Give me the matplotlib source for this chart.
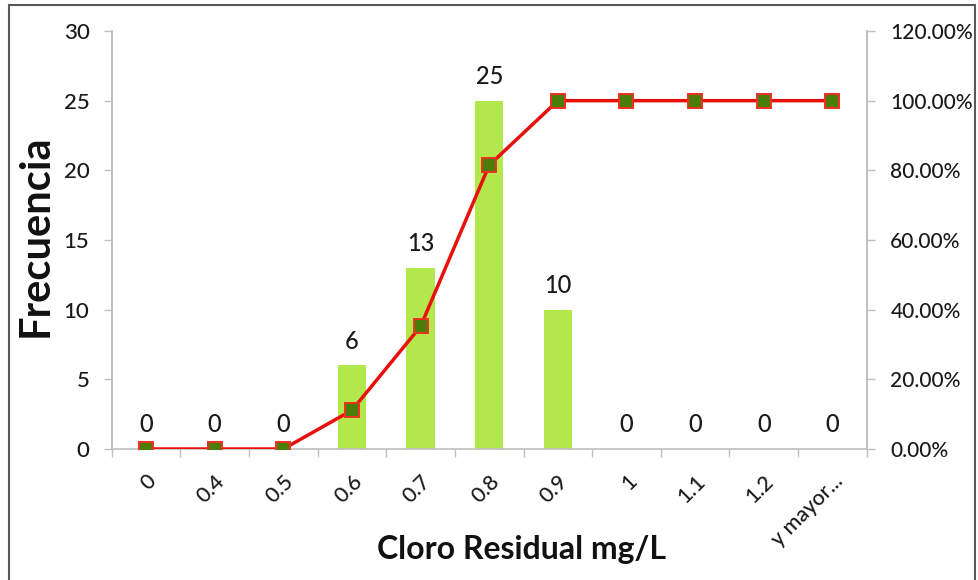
import matplotlib
matplotlib.use("Agg")
import matplotlib.pyplot as plt
from matplotlib.patches import Rectangle
from matplotlib.ticker import FixedLocator, FuncFormatter
import numpy as np

categories = ["0", "0.4", "0.5", "0.6", "0.7", "0.8", "0.9", "1", "1.1", "1.2", "y mayor..."]
frecuencia = [0, 0, 0, 6, 13, 25, 10, 0, 0, 0, 0]
acumulado_pct = [0.0, 0.0, 0.0, 11.11, 35.19, 81.48, 100.0, 100.0, 100.0, 100.0, 100.0]

plt.rcParams['font.family'] = ['Lato', 'DejaVu Sans']
plt.rcParams['font.weight'] = 'medium'

fig = plt.figure(figsize=(9.79, 5.80), dpi=100)
ax = fig.add_axes([111.7/979, 1-449/580, (866.7-111.7)/979, (449-31)/580])
ax2 = ax.twinx()

x = np.arange(len(categories))
ax.bar(x, frecuencia, width=0.41, color="#b3e84c", zorder=2)
for xi, v in zip(x, frecuencia):
    ax.annotate(str(v), (xi, v), xytext=(0, 9), textcoords="offset points",
                ha="center", va="bottom", fontsize=17, color="#1a1a1a")

ax2.plot(x, [p/100 for p in acumulado_pct], color="#e8100c", lw=2.5,
         marker="s", markersize=10, markerfacecolor="#4a7d0a",
         markeredgecolor="#f03020", markeredgewidth=1.4, zorder=3)

ax.set_xlim(-0.5, len(categories)-0.5)
ax.set_ylim(0, 30)
ax.set_yticks([0, 5, 10, 15, 20, 25, 30])
ax2.set_ylim(0, 1.2)
ax2.set_yticks([0, 0.2, 0.4, 0.6, 0.8, 1.0, 1.2])
ax2.yaxis.set_major_formatter(FuncFormatter(lambda v, p: f"{v*100:.2f}%"))

ax.set_xticks(x)
ax.set_xticklabels(categories, rotation=45, ha="right", rotation_mode="anchor")
ax.xaxis.set_minor_locator(FixedLocator(np.arange(-0.5, len(categories), 1.0)))
ax.tick_params(axis="x", which="major", length=0, pad=16, labelsize=15.5, labelcolor="#1a1a1a")
ax.tick_params(axis="x", which="minor", length=6, color="#bfbfbf", width=1)
ax.tick_params(axis="y", length=6, color="#bfbfbf", width=1, labelsize=16,
               labelcolor="#1a1a1a", pad=10)
ax2.tick_params(axis="y", length=6, color="#bfbfbf", width=1, labelsize=15,
                labelcolor="#1a1a1a", pad=11)

for a in (ax, ax2):
    a.spines["top"].set_visible(False)
    for s in ("left", "right", "bottom"):
        a.spines[s].set_color("#bfbfbf")
        a.spines[s].set_linewidth(1.2)
ax2.spines["bottom"].set_visible(False)
ax.set_zorder(ax2.get_zorder() - 1)
ax2.patch.set_visible(False)

ax.set_ylabel("Frecuencia", fontsize=30, fontweight="bold", color="#111111")
ax.yaxis.set_label_coords(-0.075, 0.51)
ax.set_xlabel("Cloro Residual mg/L", fontsize=23, fontweight="bold", color="#111111")
ax.xaxis.set_label_coords(0.5425, -0.206)

fig.patches.append(Rectangle((9/979, -0.02), (975-9)/979, 1.02-5/580,
                             transform=fig.transFigure, fill=False,
                             edgecolor="#595959", linewidth=1.5))

fig.savefig("out.png", dpi=100)
